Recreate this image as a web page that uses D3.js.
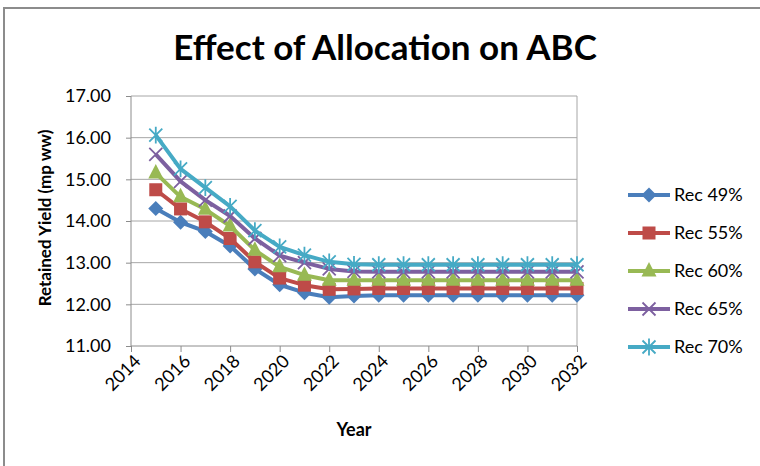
<!DOCTYPE html>
<html><head><meta charset="utf-8">
<script src="https://cdn.jsdelivr.net/npm/d3@7"></script>
<style>html,body{margin:0;padding:0;background:#fff;}svg{display:block;font-family:Lato,"Open Sans",sans-serif;}</style>
</head><body>
<svg id="c" width="760" height="466"></svg>
<script>
const years = [2015,2016,2017,2018,2019,2020,2021,2022,2023,2024,2025,2026,2027,2028,2029,2030,2031,2032];
const rec49 = [14.30,13.97,13.75,13.40,12.85,12.47,12.28,12.17,12.20,12.22,12.22,12.22,12.22,12.22,12.22,12.22,12.22,12.22];
const rec55 = [14.75,14.29,13.98,13.58,13.02,12.63,12.46,12.36,12.37,12.38,12.38,12.38,12.38,12.38,12.38,12.38,12.38,12.38];
const rec60 = [15.15,14.58,14.28,13.88,13.30,12.90,12.70,12.58,12.58,12.58,12.58,12.58,12.58,12.58,12.58,12.58,12.58,12.58];
const rec65 = [15.60,14.95,14.50,14.12,13.58,13.17,13.00,12.85,12.79,12.78,12.78,12.78,12.78,12.78,12.78,12.78,12.78,12.78];
const rec70 = [16.06,15.25,14.80,14.35,13.77,13.38,13.18,13.02,12.96,12.95,12.95,12.95,12.95,12.95,12.95,12.95,12.95,12.95];
const seriesNames = ["Rec 49%","Rec 55%","Rec 60%","Rec 65%","Rec 70%"];
const seriesData = [rec49,rec55,rec60,rec65,rec70];
const colors = ["#4A7EBB","#BE4B48","#98B954","#7D60A0","#46AAC5"];
const markers = ["diamond","square","triangle","x","star"];
const yTicks = [11,12,13,14,15,16,17];
const xTicks = [2014,2016,2018,2020,2022,2024,2026,2028,2030,2032];
const title = "Effect of Allocation on ABC";
const xTitle = "Year";
const yTitle = "Retained Yield (mp ww)";

const svg = d3.select("#c");
const L=131,R=577,T=96,B=346;
const x = d3.scaleLinear().domain([2014,2032]).range([L,R]);
const y = d3.scaleLinear().domain([11,17]).range([B,T]);

svg.append("path").attr("d","M4,470 L4,8 L765,8").attr("fill","none").attr("stroke","#8c8c8c").attr("stroke-width",2);

svg.append("text").attr("x",385).attr("y",60).attr("text-anchor","middle")
  .attr("font-size",35).attr("font-weight","bold").attr("fill","#000").text(title);

const grid = svg.append("g");
grid.selectAll("line").data(yTicks.slice(1)).join("line")
  .attr("x1",L).attr("x2",R).attr("y1",d=>y(d)).attr("y2",d=>y(d))
  .attr("stroke","#a6a6a6").attr("stroke-width",1);
grid.append("line").attr("x1",R).attr("x2",R).attr("y1",T).attr("y2",B).attr("stroke","#a6a6a6");

const yAxis = svg.append("g").attr("transform",`translate(${L},0)`)
  .call(d3.axisLeft(y).tickValues(yTicks).tickFormat(d3.format(".2f")).tickSize(5).tickPadding(15));
yAxis.select(".domain").attr("stroke","#8c8c8c").attr("d",`M0,${B}V${T}`);
yAxis.selectAll(".tick line").attr("stroke","#8c8c8c");
yAxis.selectAll("text").attr("font-size",18).attr("fill","#000").attr("font-family","Lato,sans-serif");

const xAxis = svg.append("g").attr("transform",`translate(0,${B})`)
  .call(d3.axisBottom(x).tickValues(xTicks).tickFormat(d3.format("d")).tickSize(6));
xAxis.select(".domain").attr("stroke","#8c8c8c").attr("d",`M${L},0H${R}`);
xAxis.selectAll(".tick line").attr("stroke","#8c8c8c");
xAxis.selectAll("text").attr("font-size",18).attr("fill","#000").attr("font-family","Lato,sans-serif")
  .attr("text-anchor","end").attr("transform","translate(6,12) rotate(-45)").attr("dy","0.35em").attr("y",0);

svg.append("text").attr("x",354).attr("y",436).attr("text-anchor","middle")
  .attr("font-size",18).attr("font-weight","bold").text(xTitle);
svg.append("text").attr("transform","translate(51,218) rotate(-90)").attr("text-anchor","middle")
  .attr("font-size",17).attr("font-weight","bold").text(yTitle);

function drawMarker(g, type, cx, cy, color){
  if(type==="diamond"){
    g.append("path").attr("d",`M${cx},${cy-7.5}L${cx+7.5},${cy}L${cx},${cy+7.5}L${cx-7.5},${cy}Z`).attr("fill",color);
  } else if(type==="square"){
    g.append("rect").attr("x",cx-6.5).attr("y",cy-6.5).attr("width",13).attr("height",13).attr("fill",color);
  } else if(type==="triangle"){
    g.append("path").attr("d",`M${cx},${cy-9}L${cx+7.5},${cy+5.5}L${cx-7.5},${cy+5.5}Z`).attr("fill",color);
  } else if(type==="x"){
    const a=6.5;
    g.append("path").attr("d",`M${cx-a},${cy-a}L${cx+a},${cy+a}M${cx-a},${cy+a}L${cx+a},${cy-a}`).attr("stroke",color).attr("stroke-width",1.8);
  } else {
    const a=6.5;
    g.append("path").attr("d",`M${cx-a},${cy-a}L${cx+a},${cy+a}M${cx-a},${cy+a}L${cx+a},${cy-a}M${cx},${cy-a*1.3}L${cx},${cy+a*1.3}`).attr("stroke",color).attr("stroke-width",1.8);
  }
}

const line = d3.line().x(d=>x(d[0])).y(d=>y(d[1]));
seriesData.forEach((vals,i)=>{
  const pts = years.map((yr,j)=>[yr,vals[j]]);
  const g = svg.append("g");
  g.append("path").attr("d",line(pts)).attr("fill","none").attr("stroke",colors[i]).attr("stroke-width",4).attr("stroke-linejoin","round");
  pts.forEach(p=>drawMarker(g,markers[i],x(p[0]),y(p[1]),colors[i]));
});

const legY = [195,233,271,309,347];
seriesNames.forEach((n,i)=>{
  const g = svg.append("g");
  g.append("line").attr("x1",628).attr("x2",670).attr("y1",legY[i]).attr("y2",legY[i]).attr("stroke",colors[i]).attr("stroke-width",4);
  drawMarker(g,markers[i],649,legY[i],colors[i]);
  g.append("text").attr("x",674).attr("y",legY[i]).attr("dy","0.35em").attr("font-size",18).text(n);
});
</script>
</body></html>
